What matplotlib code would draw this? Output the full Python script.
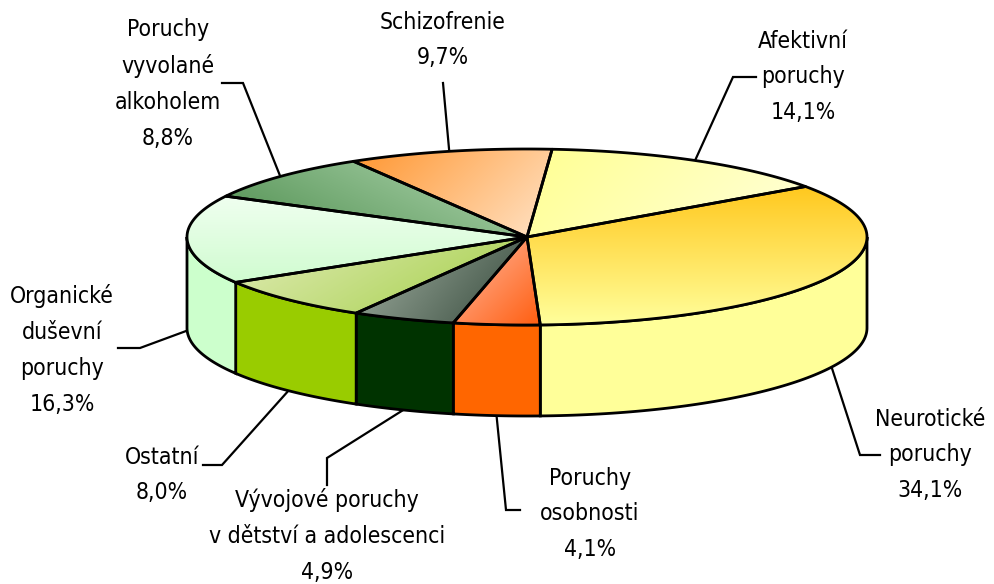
import numpy as np
import matplotlib
matplotlib.use("Agg")
import matplotlib.pyplot as plt
from matplotlib.patches import Polygon
from matplotlib.colors import to_rgb

# ── Data ──────────────────────────────────────────────────────────────────────
labels = ["Neurotické\nporuchy", "Poruchy\nosobnosti",
          "Vývojové poruchy\nv dětství a adolescenci", "Ostatní",
          "Organické\nduševní\nporuchy", "Poruchy\nvyvolané\nalkoholem",
          "Schizofrenie", "Afektivní\nporuchy"]
values = [34.1, 4.1, 4.9, 8.0, 16.3, 8.8, 9.7, 14.1]

# ── Styles ────────────────────────────────────────────────────────────────────
side_colors = ["#FFFF99", "#FF6600", "#003300", "#99CC00",
               "#CCFFCC", "#5E9A5E", "#FF9933", "#FFFF99"]
# (dark, light, direction towards dark in screen coords)
top_grad = [("#FFC81E", "#FFFF9C", (0, -1)),
            ("#FF5E10", "#FFBCA6", (1, 1)),
            ("#34483A", "#A6B4A6", (1, 0.8)),
            ("#A2CE45", "#E2ECB8", (0.6, 1)),
            ("#D0FCD0", "#F0FFF0", (0, 1)),
            ("#4E8E4E", "#B2D8B2", (-0.5, 1)),
            ("#FF9630", "#FFE4C8", (-1, -1)),
            ("#FFFF92", "#FFFFDA", (-1, -1))]

label_pos = [(930, 455), (590, 514), (327, 536), (162, 475),
             (62, 350), (168, 84), (443, 40), (803, 77)]
leader_pts = [[(860, 455), (880, 455)],
              [(506, 510), (520, 510)],
              [(327, 458), (327, 485)],
              [(222, 465), (203, 465)],
              [(140, 348), (118, 348)],
              [(243, 83), (222, 83)],
              [(443, 83)],
              [(733, 77), (756, 77)]]

W, H = 995, 584
CX, CY, RX, RY, DEPTH = 527, 237, 340, 88, 91
START = 35
LW = 2.0


def ell(t):
    r = np.radians(t)
    return CX + RX * np.cos(r), CY - RY * np.sin(r)


fig = plt.figure(figsize=(W / 100, H / 100), dpi=100)
ax = fig.add_axes([0, 0, 1, 1])
ax.set_xlim(0, W)
ax.set_ylim(H, 0)
ax.axis("off")

# slice angles, clockwise from START
bounds = []
t0 = START
for v in values:
    t1 = t0 - v * 3.6
    bounds.append((t0, t1))
    t0 = t1

# ── Side walls (front half only) ──────────────────────────────────────────────
for (ts, te), col in zip(bounds, side_colors):
    lo, hi = max(te, -180), min(ts, 0)
    if lo >= hi:
        continue
    tt = np.linspace(lo, hi, 80)
    x, y = ell(tt)
    xs = np.concatenate([x, x[::-1]])
    ys = np.concatenate([y, (y + DEPTH)[::-1]])
    ax.add_patch(Polygon(np.column_stack([xs, ys]), closed=True,
                         facecolor=col, edgecolor="black", lw=LW, zorder=2))

# ── Top faces with gradient fill ──────────────────────────────────────────────
for (ts, te), (dark, light, d) in zip(bounds, top_grad):
    tt = np.linspace(ts, te, 120)
    x, y = ell(tt)
    pts = np.vstack([[CX, CY], np.column_stack([x, y])])
    x0, x1 = pts[:, 0].min(), pts[:, 0].max()
    y0, y1 = pts[:, 1].min(), pts[:, 1].max()
    gx, gy = np.meshgrid(np.linspace(x0, x1, 200), np.linspace(y0, y1, 200))
    dx, dy = d
    proj = gx * dx + gy * dy
    f = (proj - proj.min()) / max(proj.max() - proj.min(), 1e-9)
    c_d, c_l = np.array(to_rgb(dark)), np.array(to_rgb(light))
    img = c_l[None, None, :] + (c_d - c_l)[None, None, :] * f[..., None]
    clip = Polygon(pts, closed=True, facecolor="none", edgecolor="none")
    ax.add_patch(clip)
    im = ax.imshow(img, extent=(x0, x1, y1, y0), origin="upper",
                   interpolation="bilinear", zorder=3, aspect="auto")
    im.set_clip_path(clip)
    ax.add_patch(Polygon(pts, closed=True, facecolor="none",
                         edgecolor="black", lw=LW, zorder=4,
                         joinstyle="round"))

ax.set_xlim(0, W)
ax.set_ylim(H, 0)

# ── Labels and leader lines ───────────────────────────────────────────────────
for (ts, te), name, v, pos, lead in zip(bounds, labels, values,
                                        label_pos, leader_pts):
    mid = (ts + te) / 2
    ax_, ay_ = ell(mid)
    if np.sin(np.radians(mid)) < 0:
        ay_ += DEPTH
    px = [ax_] + [p[0] for p in lead]
    py = [ay_] + [p[1] for p in lead]
    ax.plot(px, py, color="black", lw=1.6, zorder=1,
            solid_joinstyle="miter")
    pct = f"{v:.1f}".replace(".", ",") + "%"
    ax.text(pos[0], pos[1], f"{name}\n{pct}", ha="center", va="center",
            fontsize=16.5, family="DejaVu Sans", fontstretch="condensed",
            linespacing=1.72, zorder=5)

fig.savefig("out.png", dpi=100)
